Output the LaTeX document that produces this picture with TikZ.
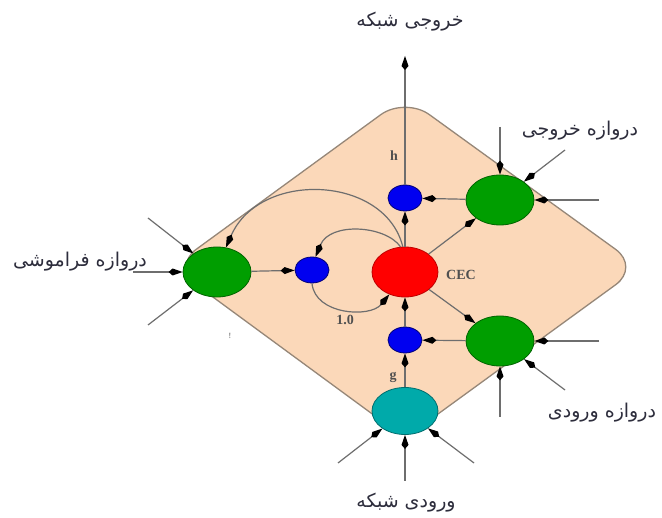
\documentclass[tikz,border=0pt]{standalone}
\usepackage{fontspec}
\setmainfont{Liberation Serif}
\newfontfamily\arabicfont[Script=Arabic]{DejaVu Sans}
\TeXXeTstate=1
\usetikzlibrary{arrows.meta,shapes.geometric}
\definecolor{peach}{RGB}{251,216,185}
\definecolor{edgebrown}{RGB}{150,135,120}
\definecolor{linegray}{RGB}{110,110,110}
\definecolor{gfill}{RGB}{0,158,0}
\definecolor{gdraw}{RGB}{0,100,0}
\definecolor{rfill}{RGB}{255,0,0}
\definecolor{rdraw}{RGB}{190,0,0}
\definecolor{bfill}{RGB}{0,0,240}
\definecolor{bdraw}{RGB}{0,0,120}
\definecolor{cfill}{RGB}{0,170,170}
\definecolor{cdraw}{RGB}{0,110,110}
\definecolor{labgray}{RGB}{80,80,80}
\definecolor{txtgray}{RGB}{45,45,60}
\tikzset{
  gate/.style={ellipse,inner sep=0pt,minimum width=68pt,minimum height=50pt,line width=0.8pt,fill=gfill,draw=gdraw},
  cec/.style={ellipse,inner sep=0pt,minimum width=66pt,minimum height=50pt,line width=0.8pt,fill=rfill,draw=rdraw},
  mult/.style={ellipse,inner sep=0pt,minimum width=34pt,minimum height=26pt,line width=0.8pt,fill=bfill,draw=bdraw},
  netin/.style={ellipse,inner sep=0pt,minimum width=66pt,minimum height=47pt,line width=0.8pt,fill=cfill,draw=cdraw},
  arr/.style={draw=linegray,line width=1.2pt,-{Kite[length=14pt,width=7pt,inset=4pt,color=black]}},
  fa/.style={text=txtgray,font=\arabicfont\fontsize{19}{22}\selectfont,inner sep=0pt},
  lab/.style={text=labgray,font=\bfseries\fontsize{14}{16}\selectfont,inner sep=0pt},
  cell/.style={draw=edgebrown,fill=peach,line width=1.3pt,rounded corners=30pt}
}
\begin{document}
\begin{tikzpicture}[x=1pt,y=-1pt]
\useasboundingbox (0,0) rectangle (662,518);
\fill[white] (0,0) rectangle (662,518);
% cell body
\draw[cell] (405,97) -- (640,267) -- (405,438) -- (172,267) -- cycle;
% nodes
\node[cec] (red) at (405,272) {};
\node[gate] (gL) at (217,272) {};
\node[gate] (gTR) at (500,200) {};
\node[gate] (gBR) at (500,341) {};
\node[netin] (cy) at (405,411) {};
\node[mult] (bT) at (405,198) {};
\node[mult] (bL) at (312,270) {};
\node[mult] (bB) at (405,340) {};
% free ends
\coordinate (outT) at (405,56);
\coordinate (iL1) at (148,218);
\coordinate (iL2) at (133,272);
\coordinate (iL3) at (148,325);
\coordinate (iT1) at (500,127);
\coordinate (iT2) at (565,150);
\coordinate (iT3) at (599,200);
\coordinate (iB1) at (599,341);
\coordinate (iB2) at (565,390);
\coordinate (iB3) at (500,417);
\coordinate (iC1) at (338,463);
\coordinate (iC2) at (405,481);
\coordinate (iC3) at (474,463);
% internal connectors
\draw[arr] (bT) -- (outT);
\draw[arr] (red) -- (bT);
\draw[arr] (gTR) -- (bT);
\draw[arr] (red) -- (gTR);
\draw[arr] (red) -- (gBR);
\draw[arr] (gBR) -- (bB);
\draw[arr] (bB) -- (red);
\draw[arr] (cy) -- (bB);
\draw[arr] (gL) -- (bL);
\draw[arr] (red.100) .. controls (385,225) and (330,222) .. (bL.75);
\draw[arr] (red.95) .. controls (385,175) and (260,170) .. (gL.70);
\draw[arr] (bL.south) .. controls (315,315) and (370,318) .. (red.235);
% external inputs
\foreach \c in {iL1,iL2,iL3} \draw[arr] (\c) -- (gL);
\foreach \c in {iT1,iT2,iT3} \draw[arr] (\c) -- (gTR);
\foreach \c in {iB1,iB2,iB3} \draw[arr] (\c) -- (gBR);
\foreach \c in {iC1,iC2,iC3} \draw[arr] (\c) -- (cy);
% labels
\node[lab] (hl) at (394,156) {h};
\node[lab] (gl) at (393,377) {g};
\node[lab] (onel) at (345,320) {1.0};
\node[lab] (cecl) at (461,275) {CEC};
\node[text=labgray,font=\fontsize{8}{9}\selectfont,inner sep=0pt] (mk) at (230,336) {!};
\node[fa] (t1) at (410,22) {\beginR خروجی شبکه\endR};
\node[fa] (t2) at (580,131) {\beginR دروازه خروجی\endR};
\node[fa] (t3) at (80,262) {\beginR دروازه فراموشی\endR};
\node[fa] (t4) at (602,413) {\beginR دروازه ورودی\endR};
\node[fa] (t5) at (406,503) {\beginR ورودی شبکه\endR};
\end{tikzpicture}
\end{document}
